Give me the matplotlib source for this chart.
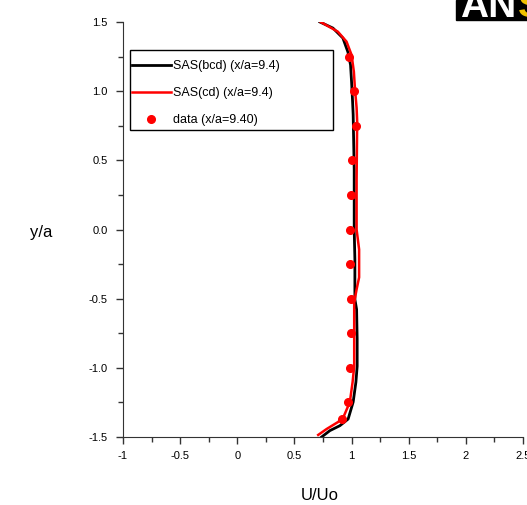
import matplotlib
matplotlib.use("Agg")
import matplotlib.pyplot as plt
from matplotlib.patches import Rectangle
from matplotlib.ticker import MultipleLocator

bcd_u = [0.723, 0.837, 0.924, 0.968, 0.991, 1.000, 1.009, 1.014, 1.023, 1.023,
         1.029, 1.029, 1.044, 1.049, 1.049, 1.038, 1.014, 0.970, 0.898, 0.810, 0.738]
bcd_y = [1.50, 1.456, 1.384, 1.283, 1.19, 1.067, 0.923, 0.829, 0.433, 0.0,
         -0.216, -0.505, -0.577, -0.793, -0.988, -1.103, -1.247, -1.37, -1.418, -1.454, -1.50]

cd_u = [0.73, 0.88, 0.956, 1.000, 1.02, 1.029, 1.044, 1.049, 1.044, 1.044,
        1.066, 1.066, 1.044, 1.023, 1.023, 1.009, 0.985, 0.933, 0.883, 0.782, 0.708]
cd_y = [1.50, 1.43, 1.358, 1.262, 1.141, 1.024, 0.88, 0.781, 0.36, 0.0,
        -0.144, -0.346, -0.433, -0.526, -0.988, -1.103, -1.247, -1.348, -1.391, -1.442, -1.485]

data_u = [0.979, 1.023, 1.035, 1.005, 0.994, 0.985, 0.985, 0.991, 0.991, 0.985, 0.965, 0.913]
data_y = [1.25, 1.0, 0.75, 0.5, 0.25, 0.0, -0.25, -0.5, -0.75, -1.0, -1.25, -1.37]

xticks = [-1, -0.5, 0, 0.5, 1, 1.5, 2, 2.5]
xticklabels = ["-1", "-0.5", "0", "0.5", "1", "1.5", "2", "2.5"]
yticks = [-1.5, -1.0, -0.5, 0.0, 0.5, 1.0, 1.5]
yticklabels = ["-1.5", "-1.0", "-0.5", "0.0", "0.5", "1.0", "1.5"]

plt.rcParams['font.family'] = ['Liberation Sans', 'DejaVu Sans']

fig = plt.figure(figsize=(5.27, 5.05), dpi=100)
ax = fig.add_axes([123 / 527, 1 - 437 / 505, 400 / 527, 415 / 505])

ax.plot(bcd_u, bcd_y, color='black', lw=2, label='SAS(bcd) (x/a=9.4)')
ax.plot(cd_u, cd_y, color='red', lw=1.8, label='SAS(cd) (x/a=9.4)')
ax.plot(data_u, data_y, 'o', color='red', ms=5.5, label='data (x/a=9.40)')

ax.set_xlim(-1, 2.5)
ax.set_ylim(-1.5, 1.5)
ax.set_xticks(xticks)
ax.set_xticklabels(xticklabels)
ax.set_yticks(yticks)
ax.set_yticklabels(yticklabels)
ax.xaxis.set_minor_locator(MultipleLocator(0.25))
ax.yaxis.set_minor_locator(MultipleLocator(0.25))
ax.tick_params(which='major', length=5, width=1, labelsize=8, color='#333333')
ax.tick_params(which='minor', length=3.5, width=1, color='#333333')
ax.tick_params(axis='y', pad=6)
ax.tick_params(axis='x', pad=5)
for s in ['top', 'right']:
    ax.spines[s].set_visible(False)
for s in ['left', 'bottom']:
    ax.spines[s].set_color('#333333')
ax.patch.set_visible(False)

# legend without its own frame, box drawn by hand to get the wide empty right side
leg = ax.legend(loc='upper left', bbox_to_anchor=(9 / 400, (437 - 60) / 415), borderaxespad=0,
                fontsize=9, handlelength=3.1, handletextpad=0.15, labelspacing=1.2,
                frameon=False, borderpad=0)
ax.add_patch(Rectangle((7 / 400, (437 - 130) / 415), 203 / 400, 80 / 415,
                       transform=ax.transAxes, fill=False, edgecolor='black', lw=1,
                       zorder=5))

fig.text(41 / 527, 1 - 232 / 505, 'y/a', fontsize=12, ha='center', va='center')
fig.text(320 / 527, 1 - 495 / 505, 'U/Uo', fontsize=12, ha='center', va='center')

# logo corner, mostly cut off by the top edge
fig.patches.append(Rectangle((456 / 527, 1 - 20 / 505), 71 / 527, 20 / 505,
                             transform=fig.transFigure, color='black'))
fig.text(460 / 527, 1 - 17 / 505, 'AN', color='white', fontsize=28, weight='bold',
         va='baseline')
fig.text(518 / 527, 1 - 17 / 505, 'S', color='#f0c000', fontsize=28, weight='bold',
         va='baseline')

fig.savefig('out.png', dpi=100)
